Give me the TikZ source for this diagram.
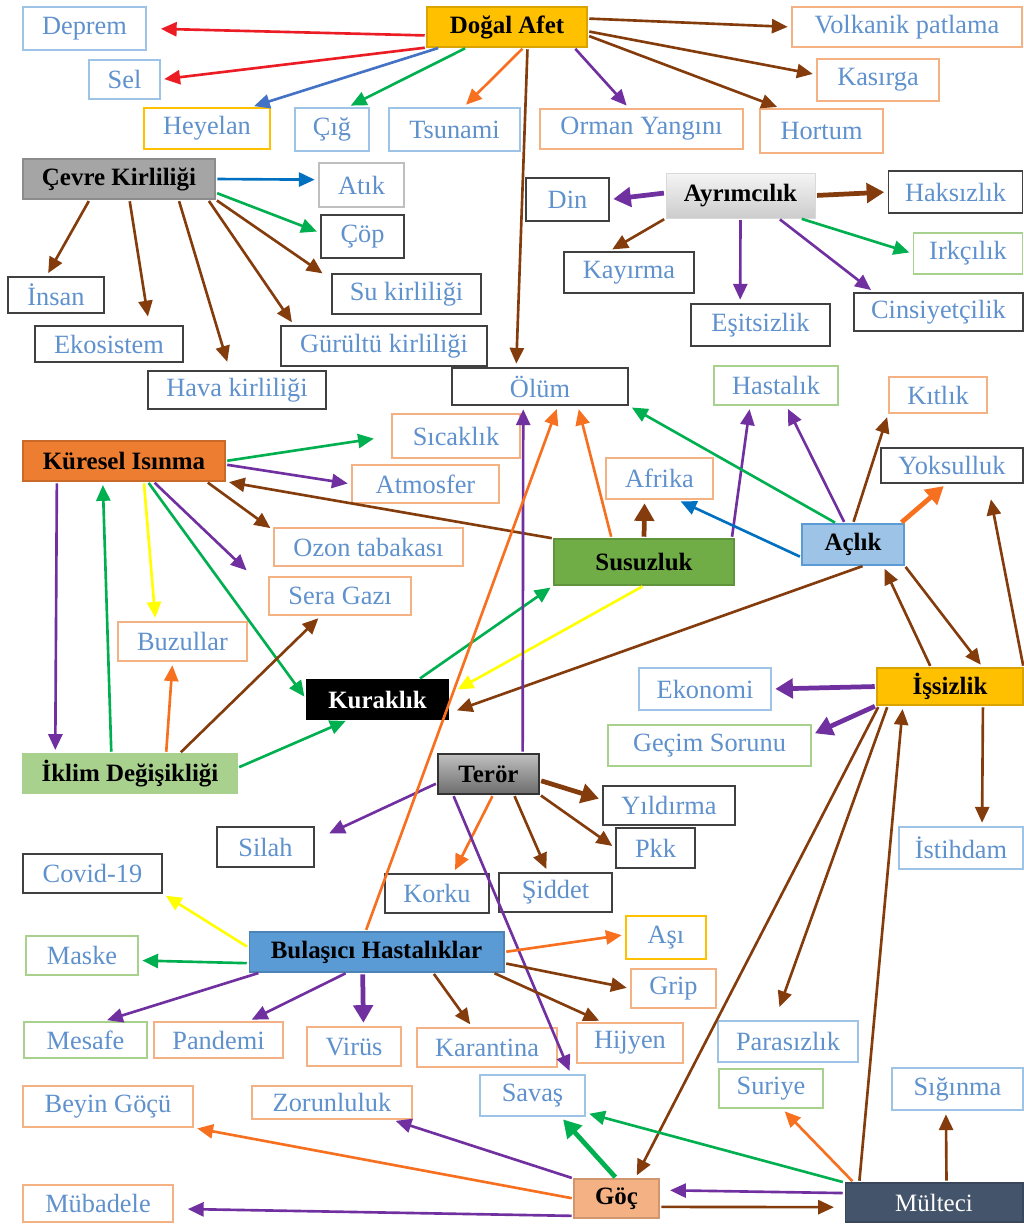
\documentclass[tikz,border=0pt]{standalone}
\usepackage{fontspec}
\setmainfont{Liberation Serif}
\usetikzlibrary{arrows.meta}

\definecolor{txtblue}{RGB}{95,145,205}
\definecolor{bdblue}{RGB}{157,195,230}
\definecolor{bdorange}{RGB}{244,177,131}
\definecolor{bdgreen}{RGB}{169,209,142}
\definecolor{bdyellow}{RGB}{255,192,0}
\definecolor{bdblack}{RGB}{64,64,64}
\definecolor{bdgrey}{RGB}{191,191,191}
\definecolor{cred}{RGB}{235,28,36}
\definecolor{cblue}{RGB}{68,114,196}
\definecolor{cblueb}{RGB}{0,112,192}
\definecolor{cgreen}{RGB}{0,176,80}
\definecolor{corange}{RGB}{247,112,32}
\definecolor{cbrown}{RGB}{132,60,12}
\definecolor{cpurple}{RGB}{112,48,160}
\definecolor{cyellow}{RGB}{255,255,0}
\definecolor{fgold}{RGB}{255,192,0}
\definecolor{fgrey}{RGB}{165,165,165}
\definecolor{forange}{RGB}{237,125,49}
\definecolor{fgreen}{RGB}{112,173,71}
\definecolor{fsky}{RGB}{157,195,230}
\definecolor{flgreen}{RGB}{169,209,142}
\definecolor{fblue}{RGB}{91,155,213}
\definecolor{fsalmon}{RGB}{244,177,131}
\definecolor{fslate}{RGB}{68,84,106}

\begin{document}
\begin{tikzpicture}[
    x=0.02cm, y=-0.02cm,
    box/.style={rectangle, draw=#1, line width=0.9pt, text=txtblue, inner sep=1pt,
      font=\fontsize{15}{17}\selectfont},
    main/.style={rectangle, fill=#1, draw=#1!85!black, line width=0.6pt, inner sep=1pt,
      font=\fontsize{14.2}{16}\selectfont\bfseries},
    wh/.style 2 args={minimum width=#1cm, minimum height=#2cm},
    arrow/.style={->, >={Triangle[length=9pt, width=8pt]}, line width=1.5pt,
      shorten <=1pt, shorten >=2pt},
    fat/.style={->, >={Triangle[length=10pt, width=11pt]}, line width=2.7pt,
      shorten <=1pt, shorten >=2pt}
  ]
  \useasboundingbox[fill=white] (0,0) rectangle (1024,1224);

  \node[main=fgold, wh={3.2}{0.8}] (afet) at (507,27) {Doğal Afet};
  \node[box=bdblue, wh={2.46}{0.86}] (deprem) at (84.5,28.5) {Deprem};
  \node[box=bdblue, wh={1.42}{0.78}] (sel) at (124.5,79.5) {Sel};
  \node[box=bdyellow, wh={2.52}{0.82}] (heyelan) at (207,128.5) {Heyelan};
  \node[box=bdblue, wh={1.48}{0.86}] (cig) at (332,129.5) {Çığ};
  \node[box=bdblue, wh={2.62}{0.86}] (tsunami) at (454.5,129.5) {Tsunami};
  \node[box=bdorange, wh={4.06}{0.8}] (orman) at (641.5,129) {Orman Yangını};
  \node[box=bdorange, wh={2.46}{0.88}] (hortum) at (821.5,131) {Hortum};
  \node[box=bdorange, wh={2.44}{0.84}] (kasirga) at (878,80) {Kasırga};
  \node[box=bdorange, wh={4.6}{0.8}] (volkanik) at (907,27) {Volkanik patlama};

  \node[main=fgrey, wh={3.84}{0.8}] (cevre) at (119,179) {Çevre Kirliliği};
  \node[box=bdgrey, wh={1.7}{0.88}] (atik) at (361.5,185) {Atık};
  \node[box=bdblack, wh={1.66}{0.86}] (cop) at (362.5,236.5) {Çöp};
  \node[box=bdblack, wh={1.92}{0.72}] (insan) at (56,295) {İnsan};
  \node[box=bdblack, wh={2.96}{0.72}] (ekosistem) at (109,344) {Ekosistem};
  \node[box=bdblack, wh={3.56}{0.76}] (hava) at (237,390) {Hava kirliliği};
  \node[box=bdblack, wh={2.98}{0.8}] (su) at (406.5,294) {Su kirliliği};
  \node[box=bdblack, wh={4.12}{0.8}] (gurultu) at (384,346) {Gürültü kirliliği};
  \node[box=bdblack, wh={3.52}{0.74}] (olum) at (540,386.5) {Ölüm};

  \node[rectangle, top color=gray!8, bottom color=gray!40, draw=gray!30, inner sep=1pt,
    font=\fontsize{14.2}{16}\selectfont\bfseries, wh={2.98}{0.9}] (ayr) at (740.5,195.5) {Ayrımcılık};
  \node[box=bdblack, wh={1.66}{0.86}] (din) at (567.5,199.5) {Din};
  \node[box=bdblack, wh={2.68}{0.84}] (haksizlik) at (955.5,192) {Haksızlık};
  \node[box=bdgreen, wh={2.18}{0.82}] (irkcilik) at (968,253.5) {Irkçılık};
  \node[box=bdblack, wh={2.6}{0.82}] (kayirma) at (629,272.5) {Kayırma};
  \node[box=bdblack, wh={2.78}{0.84}] (esitsizlik) at (760.5,325) {Eşitsizlik};
  \node[box=bdblack, wh={3.38}{0.76}] (cinsiyet) at (938.5,312) {Cinsiyetçilik};
  \node[box=bdgreen, wh={2.48}{0.78}] (hastalik) at (776,385.5) {Hastalık};
  \node[box=bdorange, wh={1.96}{0.72}] (kitlik) at (938,395) {Kıtlık};

  \node[main=forange, wh={4.04}{0.8}] (kuresel) at (124,461) {Küresel Isınma};
  \node[box=bdorange, wh={2.56}{0.88}] (sicaklik) at (456,436) {Sıcaklık};
  \node[box=bdorange, wh={2.94}{0.76}] (atmosfer) at (425.5,484) {Atmosfer};
  \node[box=bdorange, wh={2.14}{0.82}] (afrika) at (659.5,478.5) {Afrika};
  \node[box=bdblack, wh={2.84}{0.7}] (yoksulluk) at (952,465.5) {Yoksulluk};
  \node[box=bdorange, wh={3.78}{0.76}] (ozon) at (368.5,547) {Ozon tabakası};
  \node[box=bdorange, wh={2.84}{0.76}] (sera) at (340,596) {Sera Gazı};
  \node[box=bdorange, wh={2.58}{0.78}] (buzullar) at (182.5,641.5) {Buzullar};
  \node[main=fgreen, wh={3.6}{0.92}] (susuzluk) at (644,562) {Susuzluk};
  \node[main=fsky, draw=fblue, wh={2.04}{0.82}] (aclik) at (853,544.5) {Açlık};
  \node[main=black, text=white, wh={2.82}{0.78}] (kuraklik) at (377.5,699.5) {Kuraklık};
  \node[main=fgold, wh={2.92}{0.74}] (issizlik) at (950,686.5) {İşsizlik};
  \node[box=bdblue, wh={2.64}{0.84}] (ekonomi) at (705,689) {Ekonomi};
  \node[box=bdgreen, wh={4.06}{0.82}] (gecim) at (709.5,745.5) {Geçim Sorunu};
  \node[main=flgreen, draw=flgreen, wh={4.28}{0.78}] (iklim) at (130,773.5) {İklim Değişikliği};

  \node[rectangle, top color=gray!50, bottom color=gray!85!black, draw=black!80, line width=0.6pt,
    inner sep=1pt, font=\fontsize{14.2}{16}\selectfont\bfseries, wh={2.02}{0.8}] (teror) at (488.5,774) {Terör};
  \node[box=bdblack, wh={2.64}{0.78}] (yildirma) at (669,805.5) {Yıldırma};
  \node[box=bdblack, wh={1.94}{0.8}] (silah) at (265.5,847) {Silah};
  \node[box=bdblack, wh={1.58}{0.8}] (pkk) at (655.5,848) {Pkk};
  \node[box=bdblue, wh={2.48}{0.84}] (istihdam) at (961,848) {İstihdam};
  \node[box=bdblack, wh={2.78}{0.78}] (covid) at (92.5,873.5) {Covid-19};
  \node[box=bdblack, wh={2.08}{0.78}] (korku) at (437,893.5) {Korku};
  \node[box=bdblack, wh={2.26}{0.78}] (siddet) at (555.5,892.5) {Şiddet};

  \node[main=fblue, wh={5.1}{0.8}] (bulasici) at (376.5,952) {Bulaşıcı Hastalıklar};
  \node[box=bdyellow, wh={1.6}{0.86}] (asi) at (666,937.5) {Aşı};
  \node[box=bdgreen, wh={2.24}{0.78}] (maske) at (82,955.5) {Maske};
  \node[box=bdorange, wh={1.7}{0.78}] (grip) at (673.5,988.5) {Grip};
  \node[box=bdgreen, wh={2.46}{0.72}] (mesafe) at (85.5,1040) {Mesafe};
  \node[box=bdorange, wh={2.58}{0.72}] (pandemi) at (218.5,1040) {Pandemi};
  \node[box=bdorange, wh={1.88}{0.78}] (virus) at (354,1046.5) {Virüs};
  \node[box=bdorange, wh={2.8}{0.78}] (karantina) at (487,1047.5) {Karantina};
  \node[box=bdorange, wh={2.12}{0.8}] (hijyen) at (630,1043) {Hijyen};
  \node[box=bdblue, wh={2.8}{0.82}] (parasizlik) at (788,1041.5) {Parasızlık};

  \node[box=bdblue, wh={2.1}{0.82}] (savas) at (532.5,1095.5) {Savaş};
  \node[box=bdgreen, wh={2.08}{0.78}] (suriye) at (771,1088.5) {Suriye};
  \node[box=bdblue, wh={2.62}{0.84}] (siginma) at (957.5,1089) {Sığınma};
  \node[box=bdorange, wh={3.4}{0.82}] (beyin) at (108,1106.5) {Beyin Göçü};
  \node[box=bdorange, wh={3.2}{0.66}] (zorunluluk) at (332,1102.5) {Zorunluluk};
  \node[box=bdorange, wh={3.0}{0.74}] (mubadele) at (98,1203.5) {Mübadele};
  \node[main=fsalmon, wh={1.7}{0.78}] (goc) at (616.5,1198.5) {Göç};
  \node[main=fslate, text=white, font=\fontsize{14.2}{16}\selectfont, wh={3.56}{0.78}] (multeci) at (934,1202.5) {Mülteci};

  \draw[arrow, cred, shorten >=8pt] (afet.186) -- (deprem.east);
  \draw[arrow, cred] (afet.south west) -- (sel.east);
  \draw[arrow, cblue] (afet.197) -- (heyelan.26);
  \draw[arrow, cgreen] (afet.207) -- (cig.55);
  \draw[arrow, corange] (afet.-51) -- (tsunami.68);
  \draw[arrow, cbrown] (afet.-45) -- (olum.141);
  \draw[arrow, cpurple] (afet.-17) -- (orman.121);
  \draw[arrow, cbrown] (afet.-6) -- (hortum.151);
  \draw[arrow, cbrown] (afet.-3) -- (kasirga.175);
  \draw[arrow, cbrown] (afet.6) -- (volkanik.west);

  \draw[arrow, cblueb] (cevre.east) -- (atik.173);
  \draw[arrow, cgreen] (cevre.-8) -- (cop.175);
  \draw[arrow, cbrown] (cevre.215) -- (insan.117);
  \draw[arrow, cbrown, shorten >=5pt] (cevre.-63) -- (ekosistem.25);
  \draw[arrow, cbrown, shorten >=5pt] (cevre.-19) -- (hava.110);
  \draw[arrow, cbrown] (cevre.-13) -- (gurultu.167);
  \draw[arrow, cbrown, shorten >=6pt] (cevre.-12) -- (su.169);

  \draw[fat, cpurple] (ayr.178) -- (din.east);
  \draw[arrow, cbrown] (ayr.south west) -- (kayirma.133);
  \draw[arrow, cpurple] (ayr.south) -- (esitsizlik.133);
  \draw[arrow, cpurple] (ayr.-31) -- (cinsiyet.163);
  \draw[arrow, cgreen] (ayr.-21) -- (irkcilik.west);
  \draw[fat, cbrown] (ayr.east) -- (haksizlik.west);

  \draw[arrow, cgreen, shorten >=10pt] (kuresel.east) -- (sicaklik.west);
  \draw[arrow, cpurple] (kuresel.-2) -- (atmosfer.west);
  \draw[arrow, cbrown] (kuresel.-14) -- (ozon.170);
  \draw[arrow, cpurple, shorten >=17pt] (kuresel.-35) -- (sera.176);
  \draw[arrow, cyellow] (kuresel.-46) -- (buzullar.143);
  \draw[arrow, cgreen] (kuresel.-41) -- (kuraklik.west);
  \draw[arrow, cpurple] (kuresel.197) -- (iklim.165);
  \draw[arrow, cgreen] (iklim.133) -- (kuresel.224);
  \draw[arrow, corange] (iklim.29) -- (buzullar.244);
  \draw[arrow, cbrown] (iklim.22) -- (sera.226);
  \draw[arrow, cgreen] (iklim.3) -- (kuraklik.215);
  \draw[arrow, cgreen] (kuraklik.26) -- (susuzluk.south west);
  \draw[arrow, cyellow, shorten >=6pt] (susuzluk.south) -- (kuraklik.4);
  \draw[arrow, cbrown, shorten >=5pt] (aclik.-62) -- (kuraklik.-11);
  \draw[arrow, cbrown] (susuzluk.north west) -- (kuresel.south east);

  \draw[fat, cbrown] (susuzluk.north) -- (afrika.235);
  \draw[arrow, corange] (susuzluk.144) -- (olum.-27);
  \draw[arrow, cpurple] (susuzluk.15) -- (hastalik.218);
  \draw[arrow, cgreen] (aclik.128) -- (olum.south east);
  \draw[arrow, cpurple] (aclik.111) -- (hastalik.-63);
  \draw[arrow, cbrown] (aclik.north) -- (kitlik.south west);
  \draw[fat, corange] (aclik.24) -- (yoksulluk.253);
  \draw[arrow, cblueb] (aclik.194) -- (afrika.-50);
  \draw[arrow, cbrown] (aclik.south east) -- (issizlik.30);

  \draw[arrow, cbrown] (issizlik.135) -- (aclik.-35);
  \draw[arrow, cbrown, shorten >=9pt] (issizlik.north east) -- (yoksulluk.-27);
  \draw[fat, cpurple] (issizlik.west) -- (ekonomi.east);
  \draw[fat, cpurple] (issizlik.south west) -- (gecim.6);
  \draw[arrow, cbrown] (issizlik.-30) -- (istihdam.46);
  \draw[arrow, cbrown] (issizlik.195) -- (goc.47);
  \draw[arrow, cbrown, shorten >=8pt] (issizlik.197) -- (parasizlik.122);
  \draw[arrow, cbrown] (multeci.165) -- (issizlik.202);

  \draw[arrow, cpurple] (teror.31) -- (olum.229);
  \draw[arrow, cpurple, shorten >=9pt] (teror.190) -- (silah.8);
  \draw[arrow, corange] (teror.-77) -- (korku.51);
  \draw[arrow, cbrown] (teror.-39) -- (siddet.111);
  \draw[arrow, cbrown] (teror.south east) -- (pkk.west);
  \draw[fat, cbrown] (teror.-7) -- (yildirma.175);
  \draw[arrow, cpurple] (teror.210) -- (savas.29);

  \draw[arrow, corange] (bulasici.118) -- (olum.-47);
  \draw[arrow, cyellow] (bulasici.178) -- (covid.south east);
  \draw[arrow, cgreen] (bulasici.185) -- (maske.-5);
  \draw[arrow, cpurple] (bulasici.190) -- (mesafe.46);
  \draw[arrow, cpurple] (bulasici.215) -- (pandemi.32);
  \draw[fat, cpurple] (bulasici.236) -- (virus.65);
  \draw[arrow, cbrown] (bulasici.-20) -- (karantina.126);
  \draw[arrow, cbrown] (bulasici.-10) -- (hijyen.143);
  \draw[arrow, cbrown] (bulasici.-5) -- (grip.west);
  \draw[arrow, corange] (bulasici.east) -- (asi.176);

  \draw[fat, cgreen] (goc.north) -- (savas.-37);
  \draw[arrow, cpurple] (goc.north west) -- (zorunluluk.-16);
  \draw[arrow, corange] (goc.west) -- (beyin.south east);
  \draw[arrow, cpurple, shorten >=8pt] (goc.202) -- (mubadele.-4);
  \draw[arrow, cbrown, shorten >=6pt] (goc.-11) -- (multeci.183);
  \draw[arrow, cpurple, shorten >=6pt] (multeci.174) -- (goc.11);
  \draw[arrow, cgreen] (multeci.north west) -- (savas.-18);
  \draw[arrow, corange] (multeci.166) -- (suriye.-61);
  \draw[arrow, cbrown] (multeci.58) -- (siginma.242);
\end{tikzpicture}
\end{document}
